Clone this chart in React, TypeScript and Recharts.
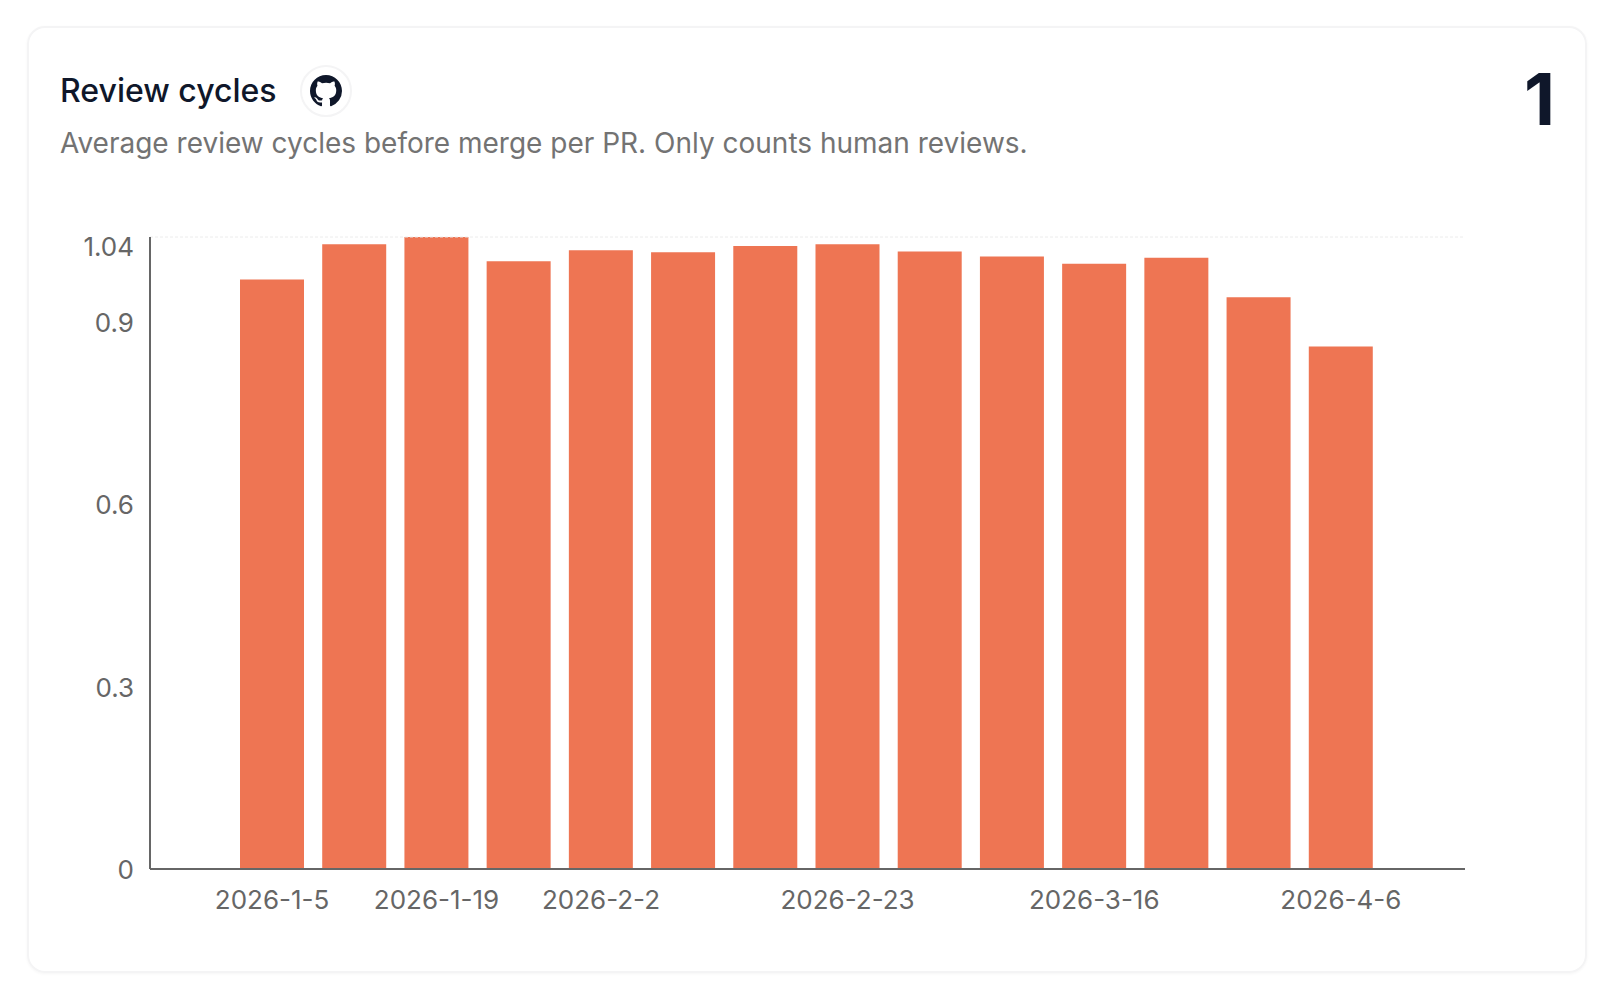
import { BarChart, Bar, XAxis, YAxis, ReferenceLine } from 'recharts';

const WEEKS = ['2026-1-5', '2026-1-12', '2026-1-19', '2026-1-26', '2026-2-2', '2026-2-9', '2026-2-16', '2026-2-23', '2026-3-2', '2026-3-9', '2026-3-16', '2026-3-23', '2026-3-30', '2026-4-6'];
const CYCLES = [0.97, 1.028, 1.04, 1.0, 1.018, 1.015, 1.025, 1.028, 1.016, 1.008, 0.996, 1.006, 0.941, 0.86];
const X_TICKS = ['2026-1-5', '2026-1-19', '2026-2-2', '2026-2-23', '2026-3-16', '2026-4-6'];
const Y_TICKS = [0, 0.3, 0.6, 0.9, 1.04];
const Y_MAX = 1.04;

const data = WEEKS.map((week, i) => ({ week, cycles: CYCLES[i] }));

const FONT = 'Inter, "Noto Sans", sans-serif';
const AXIS_COLOR = '#666666';

const GITHUB_PATH = 'M8 0C3.58 0 0 3.58 0 8c0 3.54 2.29 6.53 5.47 7.59.4.07.55-.17.55-.38 0-.19-.01-.82-.01-1.49-2.01.37-2.53-.49-2.69-.94-.09-.23-.48-.94-.82-1.13-.28-.15-.68-.52-.01-.53.63-.01 1.08.58 1.23.82.72 1.21 1.87.87 2.33.66.07-.52.28-.87.51-1.07-1.78-.2-3.64-.89-3.64-3.95 0-.87.31-1.59.82-2.15-.08-.2-.36-1.02.08-2.12 0 0 .67-.21 2.2.82.64-.18 1.32-.27 2-.27.68 0 1.36.09 2 .27 1.53-1.04 2.2-.82 2.2-.82.44 1.1.16 1.92.08 2.12.51.56.82 1.27.82 2.15 0 3.07-1.87 3.75-3.65 3.95.29.25.54.73.54 1.48 0 1.07-.01 1.93-.01 2.2 0 .21.15.46.55.38A8.013 8.013 0 0016 8c0-4.42-3.58-8-8-8z';

// the top label sits below its tick so it stays inside the plot height
function YTick({ x, y, payload }: any) {
  const shift = payload.value === Y_MAX ? 9 : 0;
  return (
    <text x={x + 6} y={y + shift} dy={10} textAnchor="end" fontSize={26} fontFamily={FONT} fill={AXIS_COLOR}>
      {payload.value}
    </text>
  );
}

export default function App() {
  return (
    <div style={{ position: 'absolute', left: 0, top: 0, width: 1620, height: 1002, background: '#fff', fontFamily: FONT }}>
      <div style={{ position: 'absolute', left: 27, top: 26, width: 1560, height: 947, boxSizing: 'border-box', border: '2px solid #f4f4f5', borderRadius: 18, boxShadow: '0 1px 3px rgba(0,0,0,0.04)' }} />
      <div style={{ position: 'absolute', left: 60, top: 71, fontSize: 32, fontWeight: 500, color: '#0f172a', whiteSpace: 'nowrap' }}>Review cycles</div>
      <div style={{ position: 'absolute', left: 300, top: 65, width: 52, height: 52, boxSizing: 'border-box', border: '2px solid #f4f4f5', borderRadius: '50%', display: 'flex', alignItems: 'center', justifyContent: 'center' }}>
        <svg width={32} height={32} viewBox="0 0 16 16"><path d={GITHUB_PATH} fill="#0f172a" /></svg>
      </div>
      <div style={{ position: 'absolute', left: 60, top: 126, fontSize: 28, color: '#737373', whiteSpace: 'nowrap' }}>Average review cycles before merge per PR. Only counts human reviews.</div>
      <div style={{ position: 'absolute', right: 65, top: 55, fontSize: 72, fontWeight: 700, color: '#0f172a', lineHeight: '88px' }}>1</div>
      <div style={{ position: 'absolute', left: 0, top: 200 }}>
        <BarChart width={1620} height={760} data={data} margin={{ top: 37, right: 155, bottom: 61, left: 60 }}>
          <ReferenceLine y={Y_MAX} stroke="#ececec" strokeDasharray="3 2" />
          <XAxis
            dataKey="week"
            ticks={X_TICKS}
            interval={0}
            padding={{ left: 81, right: 83 }}
            tickLine={false}
            tickMargin={16}
            stroke={AXIS_COLOR}
            strokeWidth={2}
            tick={{ fontSize: 26, fontFamily: FONT, fill: AXIS_COLOR }}
          />
          <YAxis
            width={90}
            domain={[0, Y_MAX]}
            ticks={Y_TICKS}
            interval={0}
            tickLine={false}
            tickMargin={16}
            stroke={AXIS_COLOR}
            strokeWidth={2}
            tick={<YTick />}
          />
          <YAxis yAxisId="right" orientation="right" width={0} domain={[0, Y_MAX]} tick={false} tickLine={false} stroke={AXIS_COLOR} strokeWidth={2} />
          <Bar dataKey="cycles" fill="#ee7553" barSize={64} isAnimationActive={false} />
        </BarChart>
      </div>
    </div>
  );
}
